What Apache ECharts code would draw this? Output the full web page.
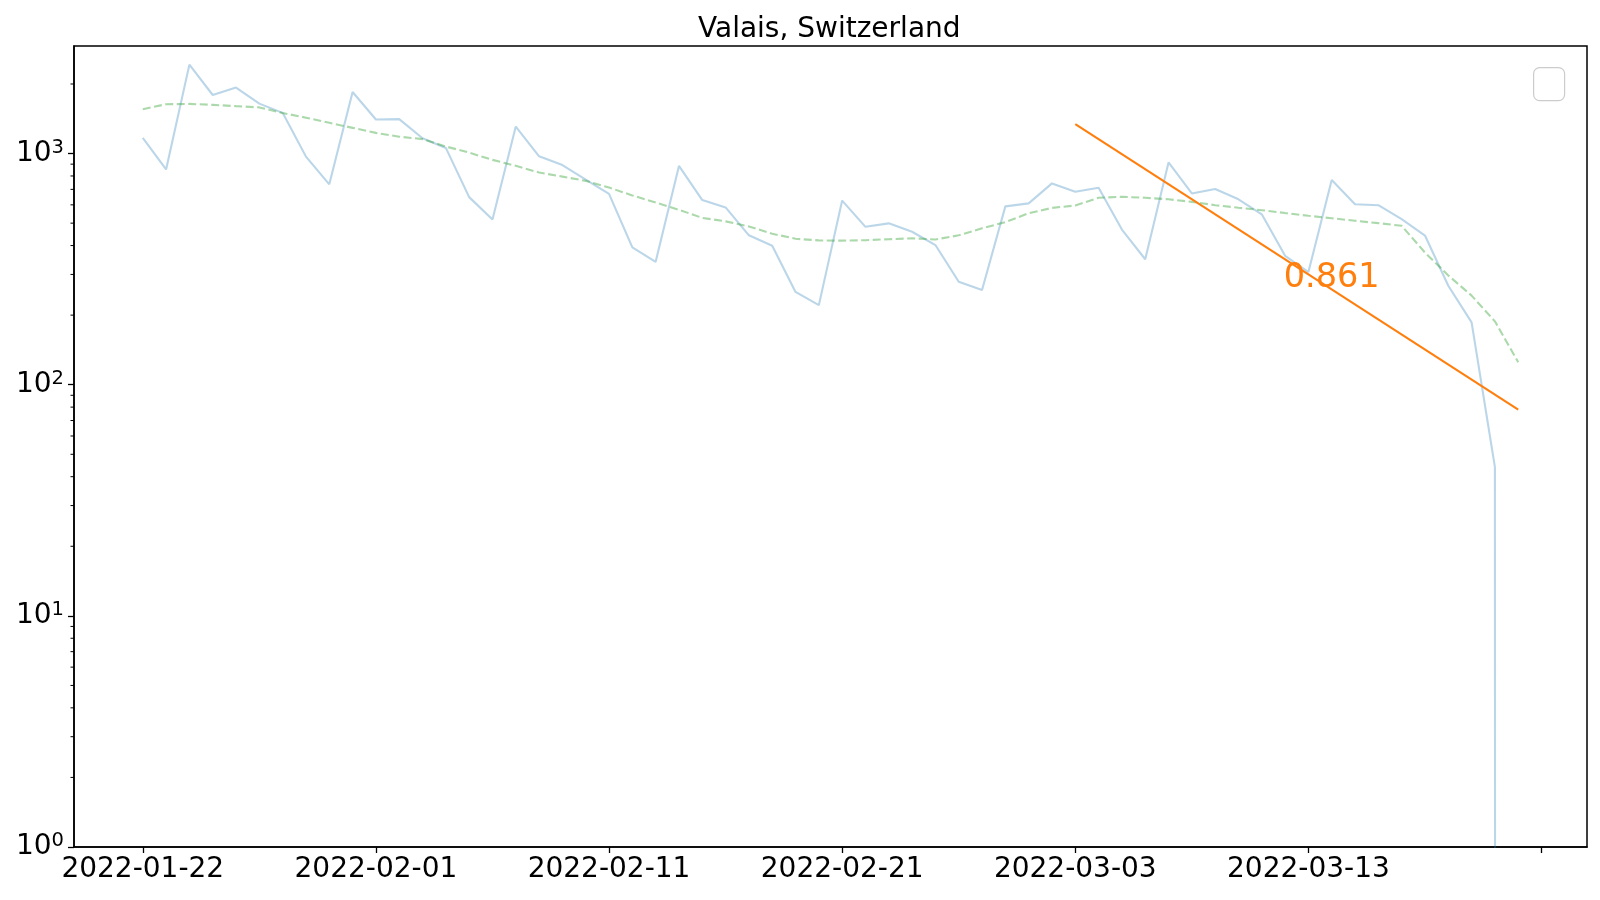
<!DOCTYPE html>
<html>
<head>
<meta charset="utf-8">
<title>Valais, Switzerland</title>
<script src="https://cdn.jsdelivr.net/npm/echarts@6/dist/echarts.min.js"></script>
<style>
html, body { margin: 0; padding: 0; background: #fff; }
#chart { width: 1600px; height: 900px; }
</style>
</head>
<body>
<div id="chart"></div>
<script>
// dates of the daily series
const dates = [
    '2022-01-22', '2022-01-23', '2022-01-24', '2022-01-25', '2022-01-26', '2022-01-27', '2022-01-28', '2022-01-29', '2022-01-30', '2022-01-31',
    '2022-02-01', '2022-02-02', '2022-02-03', '2022-02-04', '2022-02-05', '2022-02-06', '2022-02-07', '2022-02-08', '2022-02-09', '2022-02-10',
    '2022-02-11', '2022-02-12', '2022-02-13', '2022-02-14', '2022-02-15', '2022-02-16', '2022-02-17', '2022-02-18', '2022-02-19', '2022-02-20',
    '2022-02-21', '2022-02-22', '2022-02-23', '2022-02-24', '2022-02-25', '2022-02-26', '2022-02-27', '2022-02-28', '2022-03-01', '2022-03-02',
    '2022-03-03', '2022-03-04', '2022-03-05', '2022-03-06', '2022-03-07', '2022-03-08', '2022-03-09', '2022-03-10', '2022-03-11', '2022-03-12',
    '2022-03-13', '2022-03-14', '2022-03-15', '2022-03-16', '2022-03-17', '2022-03-18', '2022-03-19', '2022-03-20', '2022-03-21', '2022-03-22'
];

// daily values (light blue line)
const dailyValues = [
    1170, 854, 2425, 1792, 1929, 1645, 1500, 970, 736, 1847,
    1404, 1409, 1165, 1058, 648, 518, 1309, 973, 892, 772,
    669, 393, 340, 884, 629, 585, 443, 399, 252, 221,
    626, 482, 499, 459, 402, 279, 257, 591, 609, 743,
    684, 712, 469, 349, 915, 672, 703, 634, 546, 361,
    307, 769, 604, 598, 520, 442, 268, 186, 44, 0
];

// rolling mean (green dashed line)
const rollingValues = [
    1555, 1635, 1640, 1625, 1604, 1584, 1498, 1430, 1359, 1292,
    1229, 1183, 1155, 1073, 1010, 939, 885, 828, 795, 762,
    713, 659, 614, 571, 527, 509, 484, 450, 428, 421,
    420, 422, 426, 430, 425, 443, 475, 505, 552, 582,
    596, 644, 650, 644, 634, 618, 598, 583, 569, 553,
    538, 525, 512, 500, 487, 373, 297, 243, 188, 125
];

// exponential fit (orange line), straight on the log axis
const fitDates = ['2022-03-03', '2022-03-22'];
const fitValues = [1340, 78];
const fitLabel = '0.861';
const fitLabelPoint = ['2022-03-14', 289];

// axis ticks
const xTickDates = ['2022-01-22', '2022-02-01', '2022-02-11', '2022-02-21', '2022-03-03', '2022-03-13', '2022-03-23'];
const xLabelDates = ['2022-01-22', '2022-02-01', '2022-02-11', '2022-02-21', '2022-03-03', '2022-03-13'];
const yMajorTicks = [1, 10, 100, 1000];
const yMinorTicks = [2, 3, 4, 5, 6, 7, 8, 9, 20, 30, 40, 50, 60, 70, 80, 90, 200, 300, 400, 500, 600, 700, 800, 900, 2000];

const DAY = 86400000;
const ts = s => Date.parse(s);
const xMin = ts(dates[0]) - 2.95 * DAY;
const xMax = ts(dates[dates.length - 1]) + 2.95 * DAY;
const FONT = 'DejaVu Sans';

const chart = echarts.init(document.getElementById('chart'));

// 0 cannot sit on a log axis: push it far below the bottom like matplotlib does
const dailyData = dates.map((d, i) => [ts(d), dailyValues[i] > 0 ? dailyValues[i] : 1e-300]);
const rollingData = dates.map((d, i) => [ts(d), rollingValues[i]]);
const fitData = fitDates.map((d, i) => [ts(d), fitValues[i]]);

const option = {
    animation: false,
    backgroundColor: '#fff',
    title: {
        text: 'Valais, Switzerland',
        left: 698,
        top: 16,
        padding: 0,
        textStyle: { fontFamily: FONT, fontSize: 28, fontWeight: 'normal', color: '#000' }
    },
    grid: {
        left: 74,
        right: 13,
        top: 46,
        bottom: 53,
        show: true,
        borderColor: '#000',
        borderWidth: 1.5,
        backgroundColor: 'transparent'
    },
    graphic: [
        {
            // empty legend frame
            type: 'rect',
            left: 1533,
            top: 67,
            shape: { width: 31, height: 33, r: 6 },
            style: { fill: 'rgba(255,255,255,0.8)', stroke: '#cccccc', lineWidth: 1.2 },
            z: 100
        }
    ],
    xAxis: {
        type: 'value',
        min: xMin,
        max: xMax,
        axisLine: { show: true, onZero: false, lineStyle: { color: '#000', width: 1.5 } },
        axisTick: {
            show: true,
            length: 6,
            lineStyle: { color: '#000', width: 1.3 },
            customValues: xTickDates.map(ts)
        },
        axisLabel: {
            fontFamily: FONT,
            fontSize: 28,
            color: '#000',
            margin: 9,
            customValues: xLabelDates.map(ts),
            formatter: v => new Date(v).toISOString().slice(0, 10)
        },
        splitLine: { show: false }
    },
    yAxis: {
        type: 'log',
        logBase: 10,
        min: 1,
        max: 2920,
        axisLine: { show: true, lineStyle: { color: '#000', width: 1.5 } },
        axisTick: {
            show: true,
            length: 6,
            lineStyle: { color: '#000', width: 1.3 },
            customValues: yMajorTicks
        },
        axisLabel: {
            fontFamily: FONT,
            fontSize: 28,
            color: '#000',
            margin: 10,
            customValues: yMajorTicks,
            formatter: v => '10{s|' + Math.round(Math.log10(v)) + '}',
            rich: {
                s: { fontFamily: FONT, fontSize: 19.5, color: '#000', verticalAlign: 'top', padding: [0, 0, 12, 0] }
            }
        },
        splitLine: { show: false }
    },
    series: [
        {
            name: 'daily',
            type: 'line',
            data: dailyData,
            showSymbol: false,
            symbol: 'none',
            lineStyle: { color: 'rgba(31,119,180,0.3)', width: 2.1 },
            z: 2
        },
        {
            name: 'rolling',
            type: 'line',
            data: rollingData,
            showSymbol: false,
            symbol: 'none',
            lineStyle: { color: 'rgba(44,160,44,0.4)', width: 2.1, type: [8, 3.5] },
            z: 3
        },
        {
            name: 'fit',
            type: 'line',
            data: fitData,
            showSymbol: false,
            symbol: 'none',
            lineStyle: { color: '#ff7f0e', width: 2.1 },
            z: 4
        },
        {
            name: 'fit label',
            type: 'scatter',
            data: [[ts(fitLabelPoint[0]), fitLabelPoint[1]]],
            symbolSize: 0,
            itemStyle: { opacity: 1 },
            label: {
                show: true,
                position: 'inside',
                formatter: fitLabel,
                fontFamily: FONT,
                fontSize: 33.5,
                color: '#ff7f0e',
                opacity: 1
            },
            z: 5
        },
        {
            // minor ticks of the log axis at 2..9 x 10^n
            name: 'minor ticks',
            type: 'custom',
            data: yMinorTicks.map(v => [xMin, v]),
            renderItem: (params, api) => {
                const p = api.coord([api.value(0), api.value(1)]);
                return {
                    type: 'line',
                    shape: { x1: p[0] - 3.5, y1: p[1], x2: p[0], y2: p[1] },
                    style: { stroke: '#000', lineWidth: 1 }
                };
            },
            silent: true,
            z: 6
        }
    ]
};

chart.setOption(option);
</script>
</body>
</html>
